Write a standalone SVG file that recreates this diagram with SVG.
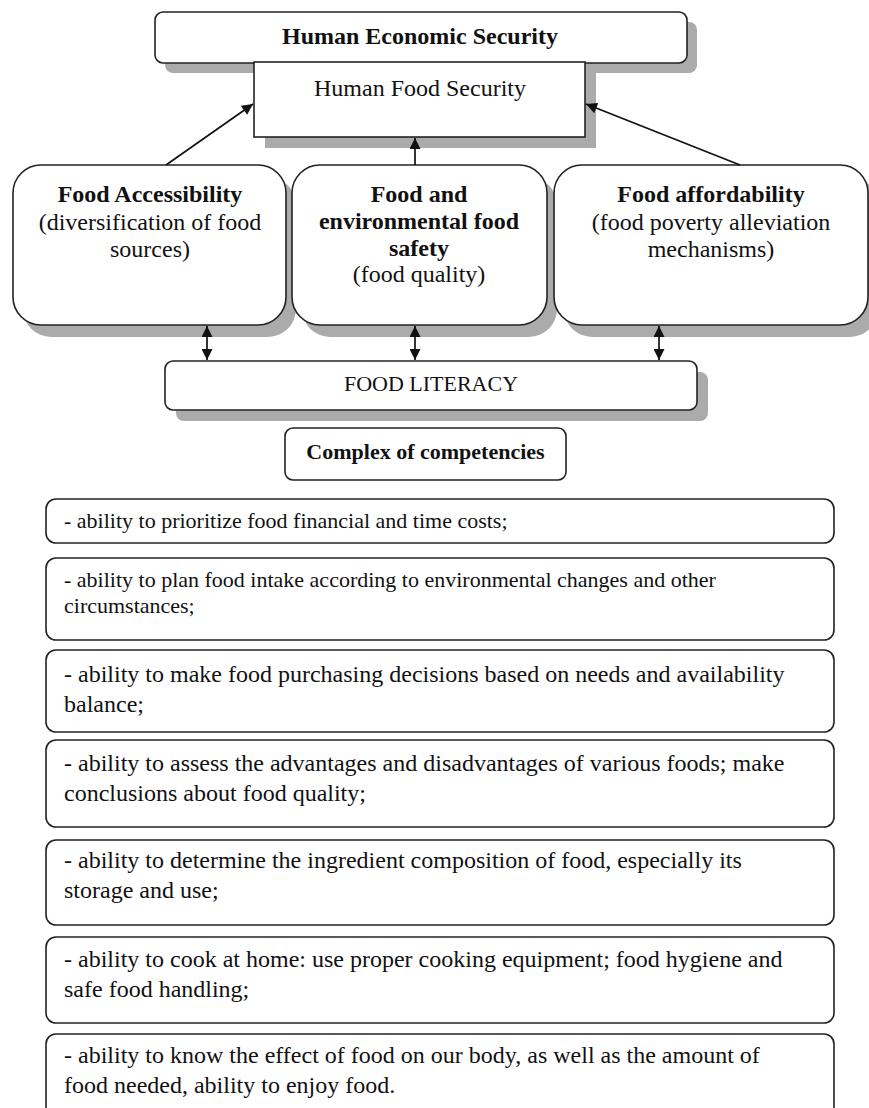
<svg xmlns="http://www.w3.org/2000/svg" width="869" height="1108" viewBox="0 0 869 1108">
<style>
.box{fill:#fff;stroke:#222;stroke-width:1.6}
.sh{fill:#ababab}
.t{font-family:"Liberation Serif","Times New Roman",serif;fill:#111}
.b{font-weight:bold}
.c{text-anchor:middle}
.s24{font-size:24px}
.s22{font-size:22px}
.conn{stroke:#111;stroke-width:1.7;fill:none}
</style>
<defs>
<marker id="ah" viewBox="0 0 10 10" refX="10" refY="5" markerWidth="12" markerHeight="11" markerUnits="userSpaceOnUse" orient="auto-start-reverse"><path d="M0,0 L10,5 L0,10 z" fill="#111"/></marker>
<marker id="ah2" viewBox="0 0 10 10" refX="10" refY="5" markerWidth="11" markerHeight="11" markerUnits="userSpaceOnUse" orient="auto-start-reverse"><path d="M0,0 L10,5 L0,10 z" fill="#111"/></marker>
</defs>
<rect width="869" height="1108" fill="#fff"/>

<g id="human-economic-security">
<rect class="sh" x="165" y="22" width="532" height="51" rx="8"/>
<rect class="box" x="155" y="12" width="532" height="51" rx="8"/>
<text class="t b c s24" x="420" y="44">Human Economic Security</text>
</g>

<g id="human-food-security">
<rect class="sh" x="265" y="73" width="331" height="75"/>
<rect class="box" x="254" y="62" width="331" height="75"/>
<text class="t c s24" x="420" y="96">Human Food Security</text>
</g>

<g id="food-accessibility">
<rect class="sh" x="23" y="177" width="273" height="160" rx="28"/>
<rect class="box" x="13" y="165" width="273" height="160" rx="28"/>
<text class="t c s24" x="150" y="202"><tspan class="b">Food Accessibility</tspan><tspan x="150" y="230">(diversification of food</tspan><tspan x="150" y="257">sources)</tspan></text>
</g>

<g id="food-safety">
<rect class="sh" x="302" y="177" width="255" height="160" rx="28"/>
<rect class="box" x="292" y="165" width="255" height="160" rx="28"/>
<text class="t c s24" x="419" y="202"><tspan class="b">Food and</tspan><tspan class="b" x="419" y="229">environmental food</tspan><tspan class="b" x="419" y="256">safety</tspan><tspan x="419" y="282">(food quality)</tspan></text>
</g>

<g id="food-affordability">
<rect class="sh" x="564" y="177" width="314" height="160" rx="28"/>
<rect class="box" x="554" y="165" width="314" height="160" rx="28"/>
<text class="t c s24" x="711" y="202"><tspan class="b">Food affordability</tspan><tspan x="711" y="230">(food poverty alleviation</tspan><tspan x="711" y="257">mechanisms)</tspan></text>
</g>

<g id="food-literacy">
<rect class="sh" x="176" y="372" width="532" height="49" rx="8"/>
<rect class="box" x="165" y="361" width="532" height="49" rx="8"/>
<text class="t c s22" x="431" y="391">FOOD LITERACY</text>
</g>

<g id="complex-of-competencies">
<rect class="box" x="285" y="428" width="281" height="52" rx="8"/>
<text class="t b c s22" x="425.5" y="459">Complex of competencies</text>
</g>

<g id="competency-1">
<rect class="box" x="46" y="499" width="788" height="44" rx="10"/>
<text class="t s22" x="64" y="528">- ability to prioritize food financial and time costs;</text>
</g>
<g id="competency-2">
<rect class="box" x="46" y="558" width="788" height="82" rx="10"/>
<text class="t s22" x="64" y="587">- ability to plan food intake according to environmental changes and other<tspan x="64" y="613">circumstances;</tspan></text>
</g>
<g id="competency-3">
<rect class="box" x="46" y="650" width="788" height="82" rx="10"/>
<text class="t s24" x="64" y="682">- ability to make food purchasing decisions based on needs and availability<tspan x="64" y="712">balance;</tspan></text>
</g>
<g id="competency-4">
<rect class="box" x="46" y="740" width="788" height="87" rx="10"/>
<text class="t s24" x="64" y="771">- ability to assess the advantages and disadvantages of various foods; make<tspan x="64" y="801">conclusions about food quality;</tspan></text>
</g>
<g id="competency-5">
<rect class="box" x="46" y="840" width="788" height="85" rx="10"/>
<text class="t s24" x="64" y="868">- ability to determine the ingredient composition of food, especially its<tspan x="64" y="898">storage and use;</tspan></text>
</g>
<g id="competency-6">
<rect class="box" x="46" y="937" width="788" height="86" rx="10"/>
<text class="t s24" x="64" y="967">- ability to cook at home: use proper cooking equipment; food hygiene and<tspan x="64" y="997">safe food handling;</tspan></text>
</g>
<g id="competency-7">
<rect class="box" x="46" y="1034" width="788" height="92" rx="10"/>
<text class="t s24" x="64" y="1063">- ability to know the effect of food on our body, as well as the amount of<tspan x="64" y="1093">food needed, ability to enjoy food.</tspan></text>
</g>

<g id="connectors">
<line class="conn" x1="166" y1="165" x2="253" y2="104" marker-end="url(#ah)"/>
<line class="conn" x1="415" y1="165" x2="415" y2="138" marker-end="url(#ah)"/>
<line class="conn" x1="740" y1="165" x2="586" y2="104" marker-end="url(#ah)"/>
<line class="conn" x1="207" y1="326" x2="207" y2="360" marker-start="url(#ah2)" marker-end="url(#ah2)"/>
<line class="conn" x1="415" y1="326" x2="415" y2="360" marker-start="url(#ah2)" marker-end="url(#ah2)"/>
<line class="conn" x1="659" y1="326" x2="659" y2="360" marker-start="url(#ah2)" marker-end="url(#ah2)"/>
</g>
</svg>
